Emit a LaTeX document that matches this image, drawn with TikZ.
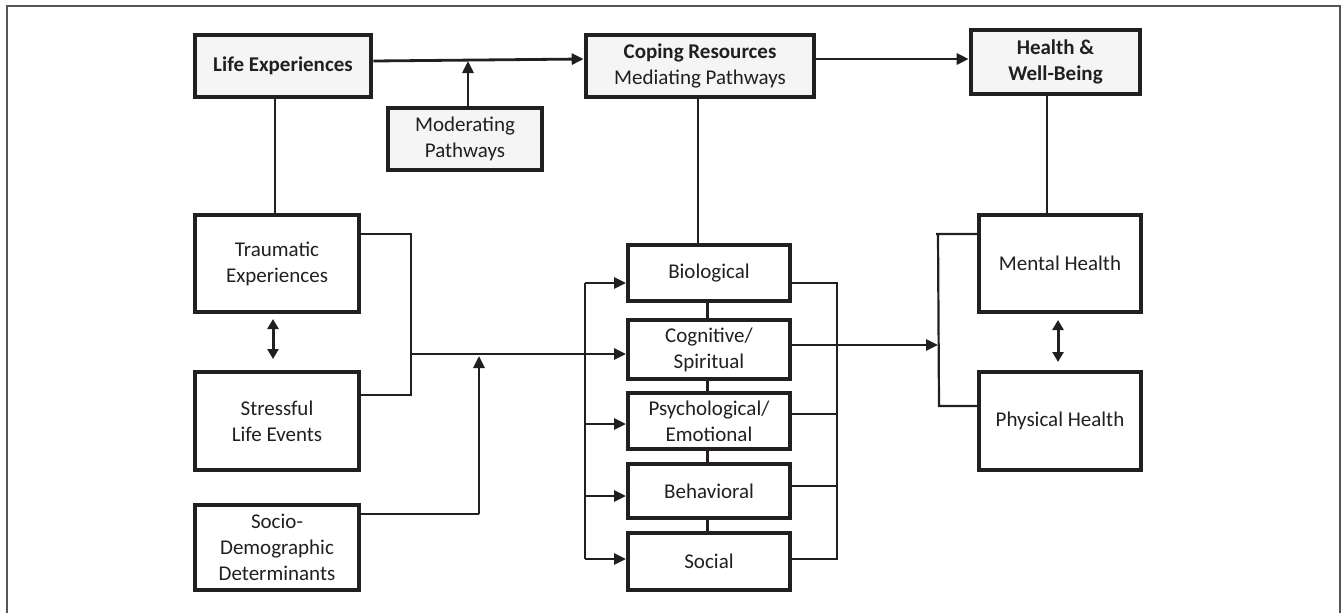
\documentclass[tikz,border=0pt]{standalone}
\usepackage{fontspec}
\setmainfont{Carlito}
\usetikzlibrary{arrows.meta}
\definecolor{ink}{HTML}{231F20}
\definecolor{boxfill}{HTML}{F5F5F5}
\definecolor{framec}{HTML}{555555}
\begin{document}
\begin{tikzpicture}[x=1pt,y=-1pt,
  txt/.style={font=\fontsize{21}{26}\selectfont, text=ink, align=center, inner sep=0pt},
  topbox/.style={txt, draw=ink, line width=4.6pt, fill=boxfill},
  subbox/.style={txt, draw=ink, line width=4pt, fill=white},
  conn/.style={draw=ink, line width=2.2pt},
  arr/.style={draw=ink, line width=2.8pt, -{Triangle[length=12pt,width=11pt]}},
  dbl/.style={draw=ink, line width=3pt, {Triangle[length=10pt,width=11pt]}-{Triangle[length=10pt,width=11pt]}}
]
\useasboundingbox (0,0) rectangle (1343,613);
\draw[framec, line width=1.5pt] (7,613) -- (7,6) -- (1340,6) -- (1340,613);

% top row
\node[topbox, minimum width=176pt, minimum height=62pt] (life) at (283,66) {\textbf{Life Experiences}};
\node[topbox, minimum width=154pt, minimum height=62pt] (mod) at (465,139) {Moderating\\Pathways};
\node[topbox, minimum width=228pt, minimum height=62pt] (cope) at (700,66) {\textbf{Coping Resources}\\Mediating Pathways};
\node[topbox, minimum width=169pt, minimum height=64pt] (health) at (1055.5,62) {\textbf{Health \&}\\\textbf{Well-Being}};

% left column
\node[subbox, minimum width=164pt, minimum height=97pt] (trauma) at (277,263.5) {Traumatic\\Experiences};
\node[subbox, minimum width=164pt, minimum height=98pt] (stress) at (277,421) {Stressful\\Life Events};
\node[subbox, minimum width=164pt, minimum height=85pt] (socio) at (277,547.5) {Socio-\\Demographic\\Determinants};

% middle column
\node[subbox, minimum width=162pt, minimum height=56pt] (bio) at (709,273) {Biological};
\node[subbox, minimum width=162pt, minimum height=59pt] (cog) at (709,349.5) {Cognitive/\\Spiritual};
\node[subbox, minimum width=162pt, minimum height=56pt] (psy) at (709,421) {Psychological/\\Emotional};
\node[subbox, minimum width=162pt, minimum height=54pt] (beh) at (709,491) {Behavioral};
\node[subbox, minimum width=162pt, minimum height=57pt] (soc) at (709,561.5) {Social};

% right column
\node[subbox, minimum width=162pt, minimum height=97pt] (mental) at (1060,263.5) {Mental Health};
\node[subbox, minimum width=162pt, minimum height=98pt] (phys) at (1060,421) {Physical Health};

% coordinates
\coordinate (lx) at (275,0);
\coordinate (hx) at (1047,0);
\coordinate (cx) at (698,0);
\coordinate (mj) at (468,61);
\coordinate (b1) at (411,234);
\coordinate (b2) at (411,395);
\coordinate (b3) at (411,354);
\coordinate (s1) at (479,514);
\coordinate (d1) at (585,283);
\coordinate (dp) at (585,424);
\coordinate (db) at (585,496);
\coordinate (d2) at (585,559);
\coordinate (r1) at (837,283);
\coordinate (rp) at (837,414);
\coordinate (rb) at (837,486);
\coordinate (r2) at (837,559);
\coordinate (h3) at (938,345);
\coordinate (m1) at (939,234);
\coordinate (m2) at (939,406);

% top connectors
\draw[arr] ([yshift=5pt]life.east) -- ([yshift=7pt]cope.west);
\draw[arr] (mod.north -| mj) -- (mj);
\draw[arr] ([yshift=7pt]cope.east) -- ([yshift=3pt]health.west);

% verticals from top boxes
\draw[conn] (life.south -| lx) -- (trauma.north -| lx);
\draw[conn] (cope.south -| cx) -- (bio.north -| cx);
\draw[conn] (health.south -| hx) -- (mental.north -| hx);

% left group
\draw[dbl] ([xshift=-4pt,yshift=-5pt]trauma.south) -- ([xshift=-4pt,yshift=11pt]stress.north);
\draw[conn] (trauma.east |- b1) -- (b1) -- (b2) -- (stress.east |- b2);
\draw[arr] (b3) -- (cog.west |- b3);
\draw[conn] (socio.east |- s1) -- (s1);
\draw[arr, shorten >=2pt] (s1) -- (s1 |- b3);

% distributor into middle column
\draw[conn] (d1) -- (d2);
\draw[arr] (d1) -- (bio.west |- d1);
\draw[arr] (dp) -- (psy.west |- dp);
\draw[arr] (db) -- (beh.west |- db);
\draw[arr] (d2) -- (soc.west |- d2);

% links within middle column
\draw[draw=ink, line width=3pt] ([xshift=-2pt]bio.south) -- ([xshift=-2pt]cog.north);
\draw[draw=ink, line width=3pt] ([xshift=-2pt]cog.south) -- ([xshift=-2pt]psy.north);
\draw[draw=ink, line width=3pt] ([xshift=-2pt]psy.south) -- ([xshift=-2pt]beh.north);
\draw[draw=ink, line width=3pt] ([xshift=-2pt]beh.south) -- ([xshift=-2pt]soc.north);

% right bracket of middle column
\draw[conn] (bio.east |- r1) -- (r1) -- (r2) -- (soc.east |- r2);
\draw[conn] (psy.east |- rp) -- (rp);
\draw[conn] (beh.east |- rb) -- (rb);
\draw[arr] (cog.east |- h3) -- (h3);

% health bracket
\draw[conn] (mental.west |- m1) -- ([xshift=-3pt]m1) -- ([xshift=-1pt]m1) -- (m2) -- (phys.west |- m2);
\draw[dbl] ([xshift=-2pt,yshift=-6pt]mental.south) -- ([xshift=-2pt,yshift=8pt]phys.north);
\end{tikzpicture}
\end{document}
